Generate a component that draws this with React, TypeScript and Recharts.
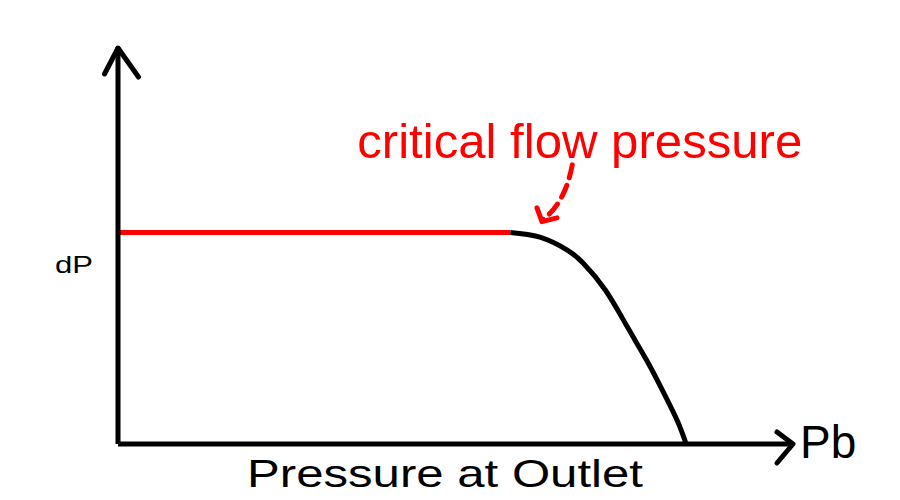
import { LineChart, Line, XAxis, YAxis, ReferenceDot } from "recharts";

// flat part (before critical flow) and the drop after it
const flatX = [0, 58.2];
const flatY = [53.3, 53.3];
const dropX = [58.2, 62.6, 66.6, 69.0, 72.3, 75.5, 78.5, 80.9, 83.0, 84.3];
const dropY = [53.3, 52.1, 48.9, 45.6, 38.8, 29.7, 20.9, 13.1, 5.8, 0];

const criticalX = 58.2;
const criticalY = 53.3;

const labels = {
  annotation: "critical flow pressure",
  yName: "dP",
  xName: "Pb",
  xTitle: "Pressure at Outlet",
};

const flatData = flatX.map((x, i) => ({ x, y: flatY[i] }));
const dropData = dropX.map((x, i) => ({ x, y: dropY[i] }));

const RED = "#ff0000";
const FONT = "'Liberation Sans', Arial, sans-serif";

function XLabel({ viewBox }: any) {
  const { x, y, width } = viewBox;
  return (
    <g fontFamily={FONT} fill="#000">
      <text x={x + width + 8} y={y + 14} fontSize={46}>
        {labels.xName}
      </text>
      <text
        x={x + 129}
        y={y + 43}
        fontSize={39}
        textLength={396}
        lengthAdjust="spacingAndGlyphs"
      >
        {labels.xTitle}
      </text>
    </g>
  );
}

function YLabel({ viewBox }: any) {
  const { x, y } = viewBox;
  return (
    <text
      x={x + 55}
      y={y + 226}
      fontSize={24}
      fontFamily={FONT}
      fill="#000"
      textLength={38}
      lengthAdjust="spacingAndGlyphs"
    >
      {labels.yName}
    </text>
  );
}

function Annotation({ cx, cy }: any) {
  return (
    <g>
      <text
        x={cx - 153}
        y={cy - 74.5}
        fontSize={49}
        fontFamily={FONT}
        fill={RED}
        textLength={445}
        lengthAdjust="spacingAndGlyphs"
      >
        {labels.annotation}
      </text>
      <path
        d={`M ${cx + 62} ${cy - 67.5} Q ${cx + 55} ${cy - 30} ${cx + 33} ${cy - 13}`}
        stroke={RED}
        strokeWidth={5}
        fill="none"
        strokeDasharray="13 8"
        strokeLinecap="round"
      />
      <path
        d={`M ${cx + 26.7} ${cy - 24.5} L ${cx + 31.7} ${cy - 10.8} L ${cx + 46.7} ${cy - 14.5}`}
        stroke={RED}
        strokeWidth={5}
        fill="none"
        strokeLinecap="round"
        strokeLinejoin="round"
      />
    </g>
  );
}

export default function App() {
  return (
    <div style={{ position: "absolute", left: 0, top: 0, background: "#fff" }}>
      <LineChart
        width={900}
        height={500}
        margin={{ top: 47, right: 108, bottom: 0, left: 0 }}
      >
        <defs>
          <marker
            id="arrowX"
            markerUnits="userSpaceOnUse"
            orient="0"
            refX={0}
            refY={0}
            markerWidth={40}
            markerHeight={40}
            style={{ overflow: "visible" }}
          >
            <path
              d="M -15 -12 L 1 0 L -15 19"
              stroke="#000"
              strokeWidth={5}
              fill="none"
              strokeLinecap="round"
              strokeLinejoin="round"
            />
          </marker>
          <marker
            id="arrowY"
            markerUnits="userSpaceOnUse"
            orient="0"
            refX={0}
            refY={0}
            markerWidth={40}
            markerHeight={40}
            style={{ overflow: "visible" }}
          >
            <path
              d="M -13.5 27 L 0 1 L 20.5 30"
              stroke="#000"
              strokeWidth={5}
              fill="none"
              strokeLinecap="round"
              strokeLinejoin="round"
            />
          </marker>
        </defs>

        <XAxis
          type="number"
          dataKey="x"
          domain={[0, 100]}
          height={56}
          tick={false}
          tickLine={false}
          axisLine={{ stroke: "#000", strokeWidth: 5, markerEnd: "url(#arrowX)" }}
          label={{ content: XLabel }}
        />
        <YAxis
          type="number"
          dataKey="y"
          domain={[0, 100]}
          width={118}
          tick={false}
          tickLine={false}
          axisLine={{ stroke: "#000", strokeWidth: 5, markerStart: "url(#arrowY)" }}
          label={{ content: YLabel }}
        />

        <Line
          data={dropData}
          dataKey="y"
          type="natural"
          stroke="#000"
          strokeWidth={5}
          dot={false}
          activeDot={false}
          isAnimationActive={false}
        />
        <Line
          data={flatData}
          dataKey="y"
          type="linear"
          stroke={RED}
          strokeWidth={5}
          dot={false}
          activeDot={false}
          isAnimationActive={false}
        />

        <ReferenceDot
          x={criticalX}
          y={criticalY}
          r={0}
          shape={(p: any) => <Annotation {...p} />}
        />
      </LineChart>
    </div>
  );
}
